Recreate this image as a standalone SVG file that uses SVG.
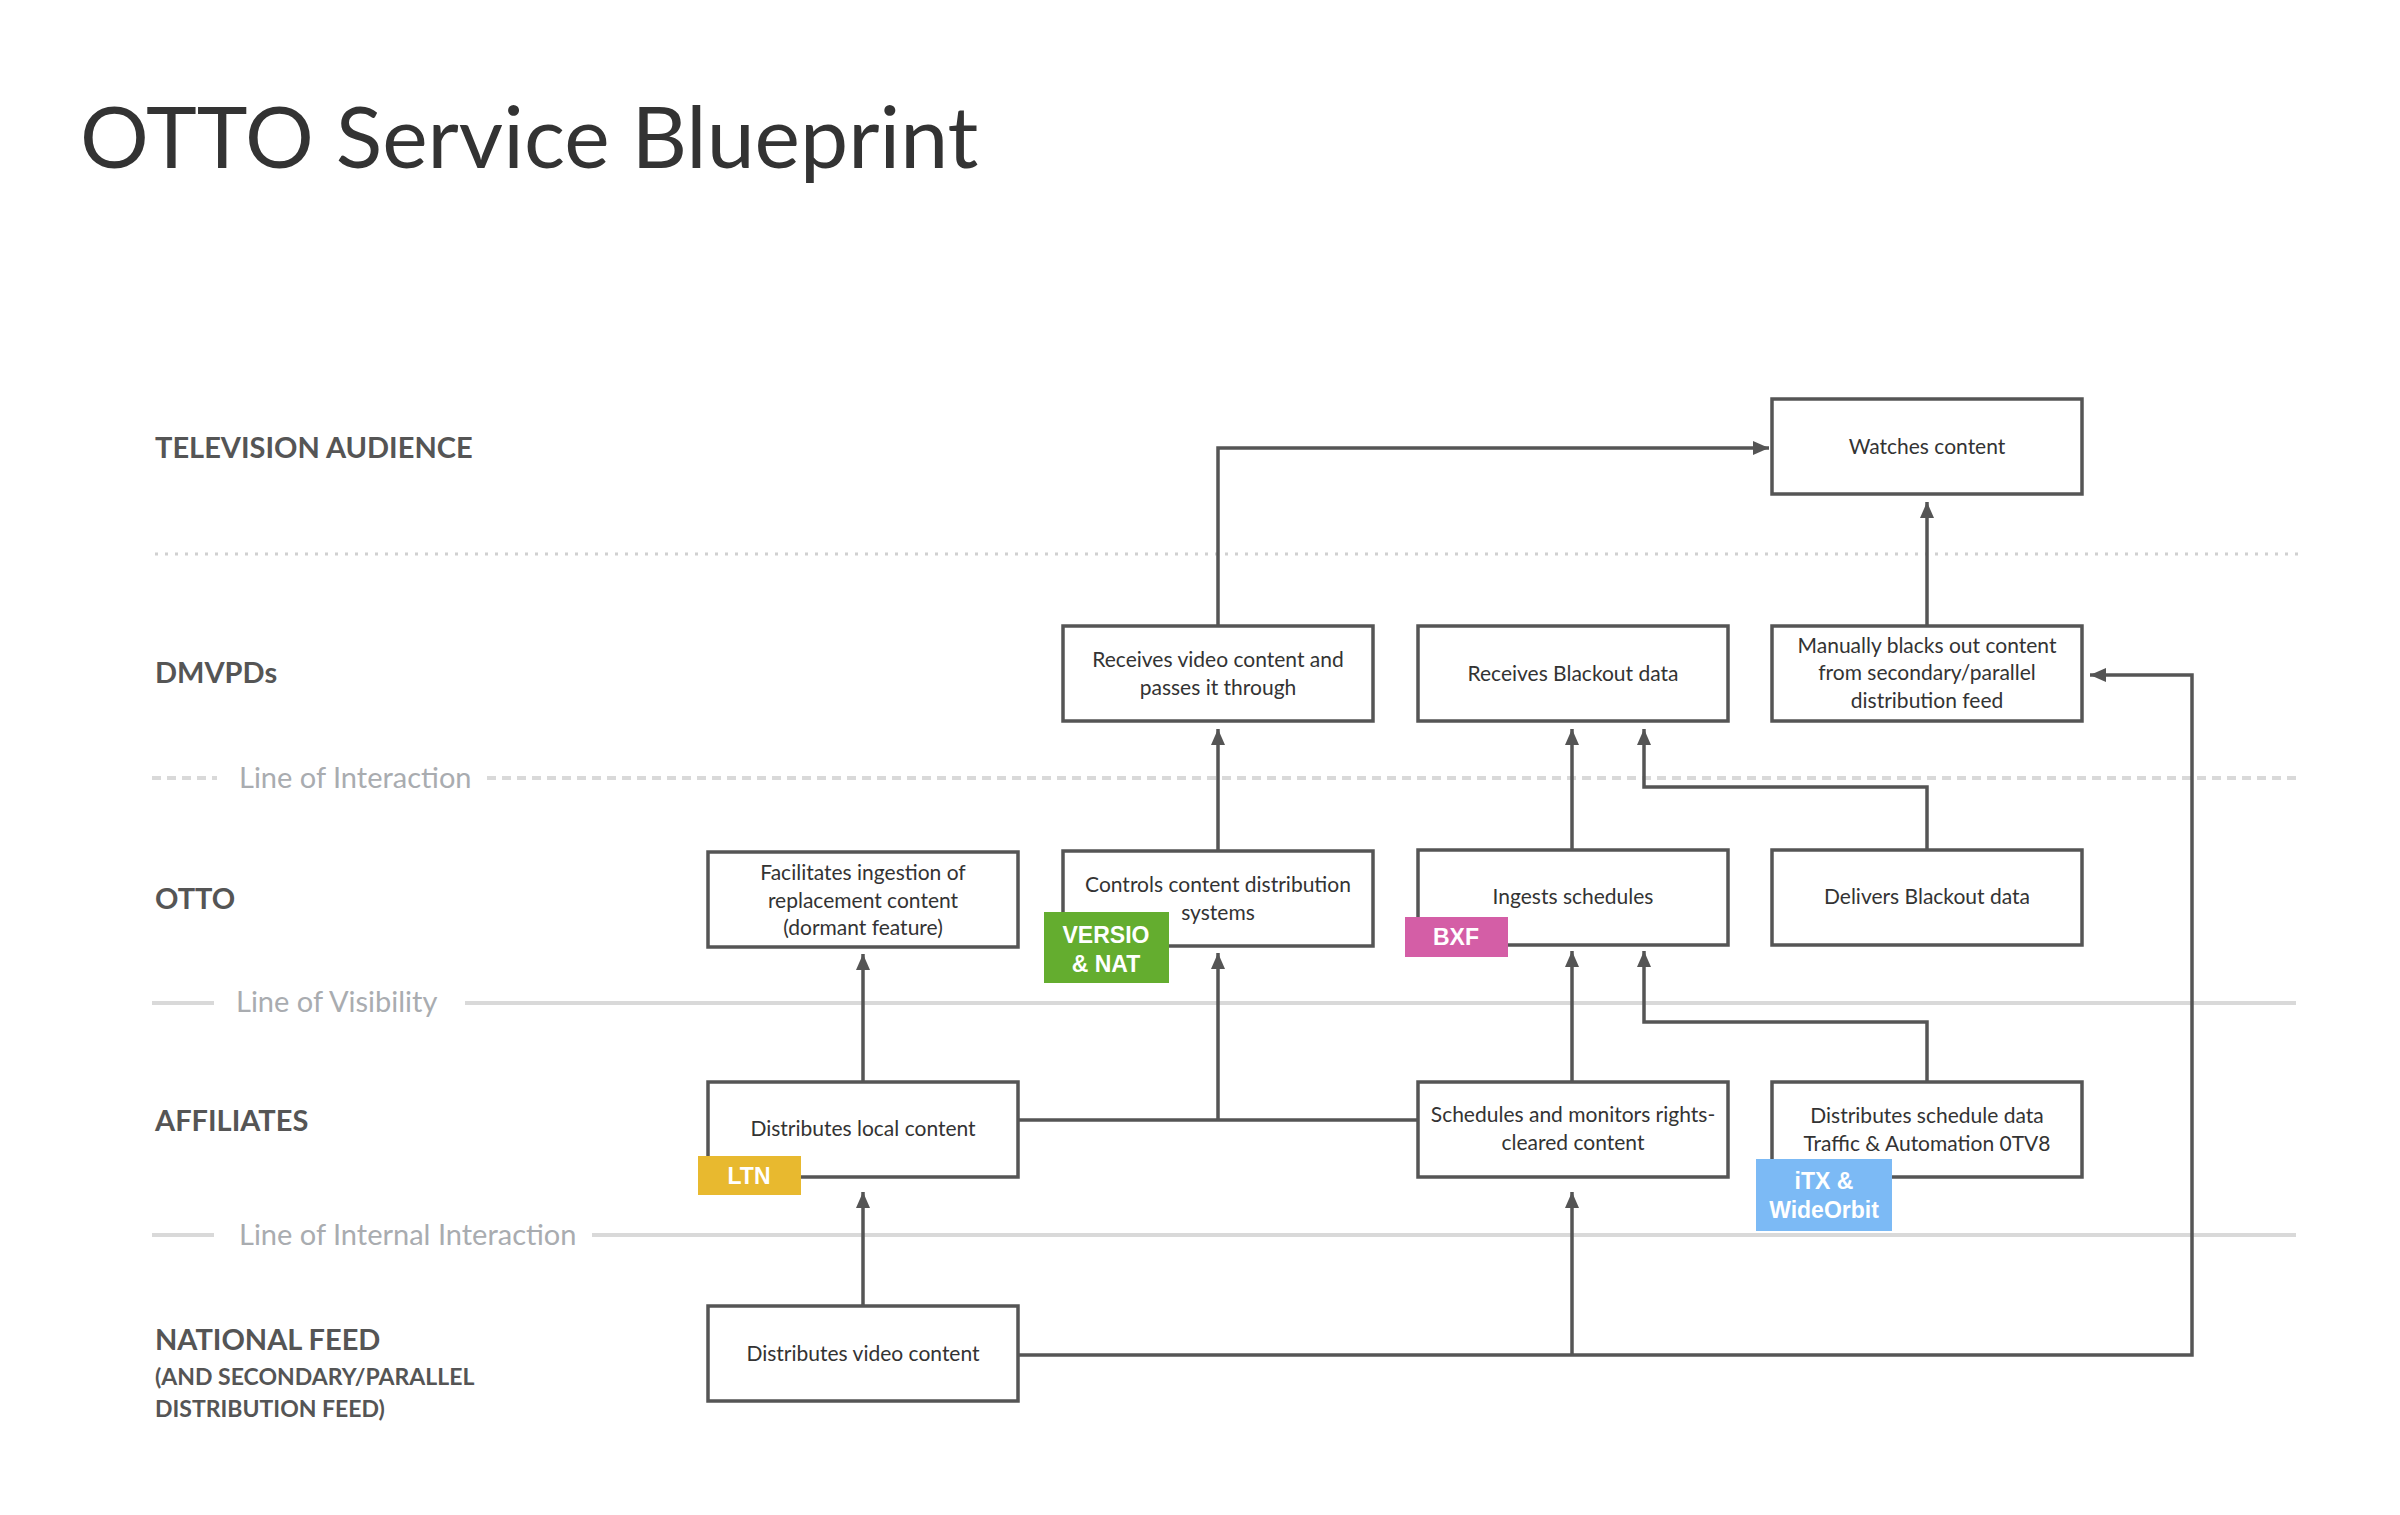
<svg xmlns="http://www.w3.org/2000/svg" width="2400" height="1515" viewBox="0 0 2400 1515">
<defs>
<style>
.title{font-family:Lato,"Open Sans","Liberation Sans",sans-serif;font-size:86px;fill:#333;}
.lane{font-family:Lato,"Open Sans","Liberation Sans",sans-serif;font-weight:700;font-size:29px;fill:#555;}
.lanesub{font-family:Lato,"Open Sans","Liberation Sans",sans-serif;font-weight:700;font-size:23px;fill:#555;}
.linelbl{font-family:Lato,"Open Sans","Liberation Sans",sans-serif;font-size:29px;fill:#a9acb0;}
.box{fill:#fff;stroke:#555;stroke-width:3.5;}
.nt{font-family:Lato,"Open Sans","Liberation Sans",sans-serif;font-size:21px;fill:#333;text-anchor:middle;}
.tag{font-family:"Liberation Sans",Arial,sans-serif;font-weight:700;font-size:23px;fill:#fff;text-anchor:middle;}
.conn{fill:none;stroke:#555;stroke-width:3.5;}
.sep{stroke:#d9d9d9;stroke-width:4;fill:none;}
</style>
<marker id="arr" markerWidth="16" markerHeight="14" refX="16" refY="7" orient="auto" markerUnits="userSpaceOnUse">
<path d="M0,0 L16,7 L0,14 z" fill="#555"/>
</marker>
</defs>
<rect width="2400" height="1515" fill="#fff"/>

<text class="title" x="80" y="168">OTTO Service Blueprint</text>

<g id="lanes">
<text class="lane" x="155" y="458">TELEVISION AUDIENCE</text>
<text class="lane" x="155" y="683">DMVPDs</text>
<text class="lane" x="155" y="909">OTTO</text>
<text class="lane" x="155" y="1131">AFFILIATES</text>
<text class="lane" x="155" y="1350">NATIONAL FEED</text>
<text class="lanesub" x="155" y="1385">(AND SECONDARY/PARALLEL</text>
<text class="lanesub" x="155" y="1417">DISTRIBUTION FEED)</text>
</g>

<g id="separators">
<line x1="155" y1="554" x2="2299" y2="554" stroke="#d0d0d0" stroke-width="3" stroke-dasharray="3 7"/>
<line class="sep" x1="152" y1="778" x2="217" y2="778" stroke-dasharray="9 6"/>
<text class="linelbl" x="239" y="788">Line of Interaction</text>
<line class="sep" x1="487" y1="778" x2="2296" y2="778" stroke-dasharray="9 6"/>
<line class="sep" x1="152" y1="1003" x2="214" y2="1003"/>
<text class="linelbl" x="236" y="1012">Line of Visibility</text>
<line class="sep" x1="465" y1="1003" x2="2296" y2="1003"/>
<line class="sep" x1="152" y1="1235" x2="214" y2="1235"/>
<text class="linelbl" x="239" y="1245">Line of Internal Interaction</text>
<line class="sep" x1="592" y1="1235" x2="2296" y2="1235"/>
</g>

<g id="connectors">
<path class="conn" d="M1218,626 V448 H1769" marker-end="url(#arr)"/>
<path class="conn" d="M1927,626 V502" marker-end="url(#arr)"/>
<path class="conn" d="M1015,1355 H2192 V675 H2090" marker-end="url(#arr)"/>
<path class="conn" d="M1572,1355 V1192" marker-end="url(#arr)"/>
<path class="conn" d="M863,1306 V1192" marker-end="url(#arr)"/>
<path class="conn" d="M863,1082 V954" marker-end="url(#arr)"/>
<path class="conn" d="M1018,1120 H1418"/>
<path class="conn" d="M1218,1120 V953" marker-end="url(#arr)"/>
<path class="conn" d="M1572,1082 V951" marker-end="url(#arr)"/>
<path class="conn" d="M1927,1082 V1022 H1644 V951" marker-end="url(#arr)"/>
<path class="conn" d="M1218,851 V729" marker-end="url(#arr)"/>
<path class="conn" d="M1572,850 V729" marker-end="url(#arr)"/>
<path class="conn" d="M1927,850 V787 H1644 V729" marker-end="url(#arr)"/>
</g>

<g id="node-watches">
<rect class="box" x="1772" y="399" width="310" height="95"/>
<text class="nt" x="1927" y="454">Watches content</text>
</g>
<g id="node-receives-video">
<rect class="box" x="1063" y="626" width="310" height="95"/>
<text class="nt" x="1218" y="667">Receives video content and</text>
<text class="nt" x="1218" y="695">passes it through</text>
</g>
<g id="node-receives-blackout">
<rect class="box" x="1418" y="626" width="310" height="95"/>
<text class="nt" x="1573" y="681">Receives Blackout data</text>
</g>
<g id="node-manually-blacks">
<rect class="box" x="1772" y="626" width="310" height="95"/>
<text class="nt" x="1927" y="653">Manually blacks out content</text>
<text class="nt" x="1927" y="680">from secondary/parallel</text>
<text class="nt" x="1927" y="708">distribution feed</text>
</g>
<g id="node-facilitates">
<rect class="box" x="708" y="852" width="310" height="95"/>
<text class="nt" x="863" y="880">Facilitates ingestion of</text>
<text class="nt" x="863" y="908">replacement content</text>
<text class="nt" x="863" y="935">(dormant feature)</text>
</g>
<g id="node-controls">
<rect class="box" x="1063" y="851" width="310" height="95"/>
<text class="nt" x="1218" y="892">Controls content distribution</text>
<text class="nt" x="1218" y="920">systems</text>
<rect x="1044" y="912" width="125" height="71" fill="#64ad2f"/>
<text class="tag" x="1106" y="943">VERSIO</text>
<text class="tag" x="1106" y="972">&amp; NAT</text>
</g>
<g id="node-ingests">
<rect class="box" x="1418" y="850" width="310" height="95"/>
<text class="nt" x="1573" y="904">Ingests schedules</text>
<rect x="1405" y="917" width="103" height="40" fill="#d45ea6"/>
<text class="tag" x="1456" y="945">BXF</text>
</g>
<g id="node-delivers">
<rect class="box" x="1772" y="850" width="310" height="95"/>
<text class="nt" x="1927" y="904">Delivers Blackout data</text>
</g>
<g id="node-local">
<rect class="box" x="708" y="1082" width="310" height="95"/>
<text class="nt" x="863" y="1136">Distributes local content</text>
<rect x="698" y="1156" width="103" height="39" fill="#e8b92f"/>
<text class="tag" x="749" y="1184">LTN</text>
</g>
<g id="node-schedules">
<rect class="box" x="1418" y="1082" width="310" height="95"/>
<text class="nt" x="1573" y="1122">Schedules and monitors rights-</text>
<text class="nt" x="1573" y="1150">cleared content</text>
</g>
<g id="node-schedule-data">
<rect class="box" x="1772" y="1082" width="310" height="95"/>
<text class="nt" x="1927" y="1123">Distributes schedule data</text>
<text class="nt" x="1927" y="1151">Traffic &amp; Automation 0TV8</text>
<rect x="1756" y="1159" width="136" height="72" fill="#7cbaf5"/>
<text class="tag" x="1824" y="1189">iTX &amp;</text>
<text class="tag" x="1824" y="1218">WideOrbit</text>
</g>
<g id="node-national">
<rect class="box" x="708" y="1306" width="310" height="95"/>
<text class="nt" x="863" y="1361">Distributes video content</text>
</g>
</svg>
